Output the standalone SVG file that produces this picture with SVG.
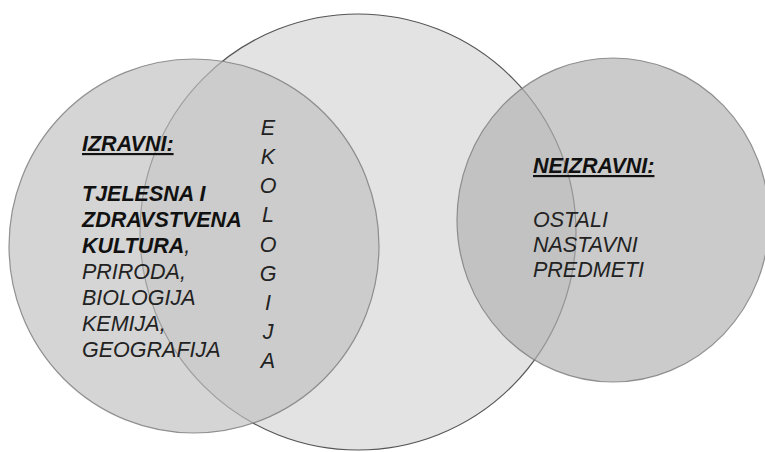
<svg xmlns="http://www.w3.org/2000/svg" width="765" height="452" viewBox="0 0 765 452">
<style>
.t{font-family:"Liberation Sans",Arial,sans-serif;font-size:21.5px;font-style:italic;fill:#222222}
.b{font-weight:bold;fill:#111111}
.u{text-decoration:underline}
.big{fill:#e3e3e3;stroke:#555555;stroke-width:1.2}
.small{stroke:#7a7a7a;stroke-width:1.2;stroke-opacity:0.8;fill-opacity:0.68}
</style>
<rect width="765" height="452" fill="#ffffff"/>
<g id="ekologija">
<ellipse class="big" cx="358" cy="232" rx="218" ry="218"/>
</g>
<g id="izravni">
<ellipse class="small" cx="194" cy="246" rx="185" ry="187" fill="#c1c1c1"/>
<text class="t b u" x="82" y="151">IZRAVNI:</text>
<text class="t b" x="82" y="201">TJELESNA I</text>
<text class="t b" x="82" y="227">ZDRAVSTVENA</text>
<text class="t" x="82" y="253"><tspan class="b">KULTURA</tspan>,</text>
<text class="t" x="82" y="279">PRIRODA,</text>
<text class="t" x="82" y="305">BIOLOGIJA</text>
<text class="t" x="82" y="331">KEMIJA,</text>
<text class="t" x="82" y="357">GEOGRAFIJA</text>
</g>
<g id="neizravni">
<ellipse class="small" cx="613" cy="220" rx="156" ry="162" fill="#b2b2b2"/>
<text class="t b u" x="533" y="173">NEIZRAVNI:</text>
<text class="t" x="533" y="227">OSTALI</text>
<text class="t" x="533" y="252">NASTAVNI</text>
<text class="t" x="533" y="277">PREDMETI</text>
</g>
<g id="ekologija-label" class="t" text-anchor="middle">
<text x="268" y="135">E</text>
<text x="268" y="164">K</text>
<text x="268" y="193">O</text>
<text x="268" y="222">L</text>
<text x="268" y="252">O</text>
<text x="268" y="281">G</text>
<text x="268" y="310">I</text>
<text x="268" y="339">J</text>
<text x="268" y="368">A</text>
</g>
</svg>
